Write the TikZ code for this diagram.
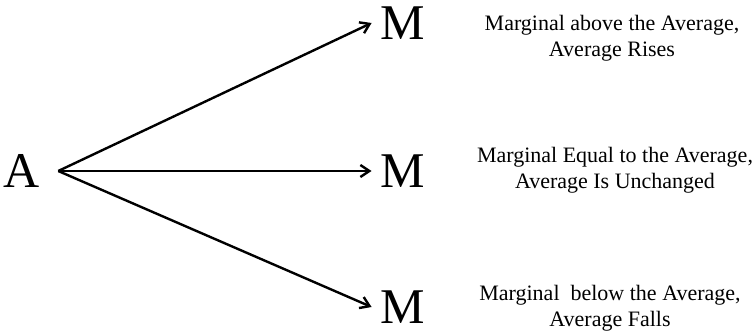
\documentclass[tikz,border=0pt]{standalone}
\usepackage{fontspec}
\setmainfont{Liberation Serif}
\usetikzlibrary{arrows.meta}
\tikzset{
  letter/.style={font=\fontsize{50}{50}\selectfont, inner ysep=0pt, inner xsep=9pt},
  note/.style={font=\fontsize{22}{26}\selectfont, align=center, inner sep=0pt},
  arr/.style={-{Straight Barb[length=9pt,width=12pt]}, line width=2.4pt}
}
\begin{document}
\begin{tikzpicture}[x=1pt,y=-1pt]
\useasboundingbox (0,0) rectangle (755,334);
\node[letter, inner xsep=18pt] (a) at (22,171) {A};
\node[letter] (m1) at (403,23) {M};
\node[letter] (m2) at (403,171) {M};
\node[letter] (m3) at (403,307) {M};
\draw[arr] (a.east) -- (m1.west);
\draw[arr] (a.east) -- (m2.west);
\draw[arr] (a.east) -- (m3.west);
\node[note] (t1) at (612,38) {Marginal above the Average,\\Average Rises};
\node[note] (t2) at (615,170) {Marginal Equal to the Average,\\Average Is Unchanged};
\node[note] (t3) at (610,308) {Marginal\ \ below the Average,\\Average Falls};
\end{tikzpicture}
\end{document}
